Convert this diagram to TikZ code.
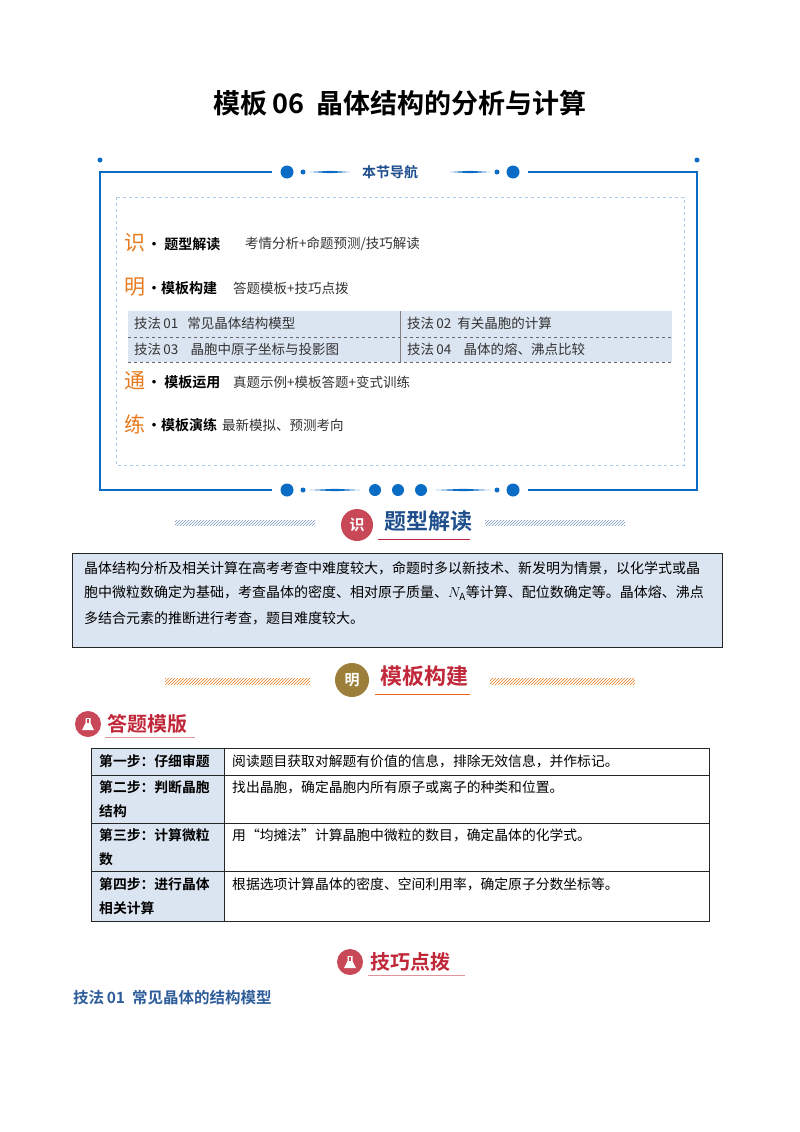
\documentclass[tikz,border=0pt]{standalone}
\usepackage{fontspec}
\setmainfont{Noto Sans CJK SC}
\newfontfamily\cjkb{Noto Sans CJK SC Bold}
\usetikzlibrary{patterns}
\definecolor{navblue}{HTML}{0A6CC4}
\definecolor{lightband}{HTML}{DBE5F1}
\definecolor{orng}{HTML}{E87A1E}
\definecolor{hdblue}{HTML}{1F4E8C}
\definecolor{hdred}{HTML}{C0283A}
\definecolor{titblue}{HTML}{2E5D9A}
\definecolor{olive}{HTML}{9C7F3A}
\tikzset{
  body/.style={anchor=west,inner sep=0pt,font=\fontsize{14}{16}\selectfont},
  bigchar/.style={anchor=west,inner sep=0pt,text=orng,font=\fontsize{21}{24}\selectfont},
  navlab/.style={anchor=west,inner sep=0pt,font=\cjkb\fontsize{14}{16}\selectfont},
  navtxt/.style={anchor=west,inner sep=0pt,text=black!80,font=\fontsize{13.5}{15}\selectfont},
  cell/.style={anchor=west,inner sep=0pt,font=\fontsize{13.8}{15}\selectfont},
  cellb/.style={anchor=west,inner sep=0pt,font=\cjkb\fontsize{13.8}{15}\selectfont},
  dot/.style={fill=navblue,draw=none},
  flask/.pic={\fill[white] (-2.5,-6) -- (2.5,-6) -- (2.5,-1) -- (6,6) -- (-6,6) -- (-2.5,-1) -- cycle;
              \fill[hdred!85] (-1.2,-5) rectangle (1.2,-1.5);},
}
\begin{document}
\begin{tikzpicture}[x=1pt,y=-1pt]
\useasboundingbox (0,0) rectangle (800,1132);
\node[font=\cjkb\fontsize{27}{30}\selectfont] (title) at (400,103) {模板\,06\ \ 晶体结构的分析与计算};
% nav frame
\draw[navblue,line width=1.6pt] (272,172) -- (100,172) -- (100,490) -- (272,490);
\draw[navblue,line width=1.6pt] (528,172) -- (697,172) -- (697,490) -- (528,490);
\fill[dot] (100,160) circle (2.5); \fill[dot] (697,160) circle (2.5);
\fill[dot] (287,172) circle (6.5); \fill[dot] (513,172) circle (6.5);
\fill[dot] (303,172) circle (2.5); \fill[dot] (497,172) circle (2.5);
\fill[navblue] (310,172) -- (330,170.8) -- (350,172) -- (330,173.2) -- cycle;
\fill[navblue] (450,172) -- (470,170.8) -- (490,172) -- (470,173.2) -- cycle;
\node[text=hdblue,font=\cjkb\fontsize{14}{16}\selectfont] (navt) at (390,172) {本节导航};
\fill[dot] (287,490) circle (6.5); \fill[dot] (513,490) circle (6.5);
\fill[dot] (303,490) circle (2.5); \fill[dot] (497,490) circle (2.5);
\fill[dot] (375,490) circle (6); \fill[dot] (398,490) circle (6); \fill[dot] (421,490) circle (6);
\fill[navblue] (310,490) -- (335,488.8) -- (360,490) -- (335,491.2) -- cycle;
\fill[navblue] (436,490) -- (463,488.8) -- (490,490) -- (463,491.2) -- cycle;
\draw[navblue!35,dashed,line width=1pt] (116,197) rectangle (684,465);
% nav rows
\node[bigchar] (c1) at (124,243) {识};
\node[navlab] (l1) at (147,244) {· 题型解读};
\node[navtxt] (t1) at (245,244) {考情分析+命题预测/技巧解读};
\node[bigchar] (c2) at (124,287) {明};
\node[navlab] (l2) at (147,288) {·模板构建};
\node[navtxt] (t2) at (233,288) {答题模板+技巧点拨};
\fill[lightband] (128,311) rectangle (672,362);
\draw[black!60,dashed] (128,337) -- (672,337);
\draw[black!60,dashed] (128,362) -- (672,362);
\draw[black!50] (400,311) -- (400,362);
\node[navtxt] (k1) at (134,323) {技法\,01\ \ \ 常见晶体结构模型};
\node[navtxt] (k2) at (407,323) {技法\,02\ \ 有关晶胞的计算};
\node[navtxt] (k3) at (134,349) {技法\,03\ \ \ \ 晶胞中原子坐标与投影图};
\node[navtxt] (k4) at (407,349) {技法\,04\ \ \ \ 晶体的熔、沸点比较};
\node[bigchar] (c3) at (124,381) {通};
\node[navlab] (l3) at (147,382) {· 模板运用};
\node[navtxt] (t3) at (233,382) {真题示例+模板答题+变式训练};
\node[bigchar] (c4) at (124,424) {练};
\node[navlab] (l4) at (147,425) {·模板演练};
\node[navtxt] (t4) at (222,425) {最新模拟、预测考向};
% section 1 header
\fill[pattern=north east lines,pattern color=hdblue!60] (175,520) rectangle (315,525);
\fill[pattern=north east lines,pattern color=hdblue!60] (485,520) rectangle (625,525);
\fill[hdred!85] (357,525) circle (16);
\node[text=white,font=\cjkb\fontsize{15}{17}\selectfont] (s1c) at (357,525) {识};
\draw[hdred,line width=1pt] (378,539) -- (470,539);
\node[text=hdblue,font=\cjkb\fontsize{22}{26}\selectfont] (s1) at (428,521) {题型解读};
\draw[black!85,fill=lightband,line width=1pt] (72,553) rectangle (722,647);
\node[body] (p1) at (84,568) {晶体结构分析及相关计算在高考考查中难度较大，命题时多以新技术、新发明为情景，以化学式或晶};
\node[body] (p2) at (84,593) {胞中微粒数确定为基础，考查晶体的密度、相对原子质量、$N_{\mathrm A}$等计算、配位数确定等。晶体熔、沸点};
\node[body] (p3) at (84,618) {多结合元素的推断进行考查，题目难度较大。};
% section 2 header
\fill[pattern=north east lines,pattern color=orng] (165,678) rectangle (310,684);
\fill[pattern=north east lines,pattern color=orng] (490,678) rectangle (635,684);
\fill[olive] (352,680) circle (17);
\node[text=white,font=\cjkb\fontsize{15}{17}\selectfont] (s2c) at (352,680) {明};
\draw[orng!80!red,line width=1pt] (375,694) -- (470,694);
\node[text=hdred,font=\cjkb\fontsize{22}{26}\selectfont] (s2) at (424,676) {模板构建};
% badge 答题模版
\fill[hdred!85] (88,724) circle (13);
\pic at (88,724) {flask};
\node[anchor=west,inner sep=0pt,text=hdred,font=\cjkb\fontsize{20}{24}\selectfont] (b1) at (107,724) {答题模版};
\draw[hdred!50] (105,737) -- (195,737);
% table
\fill[lightband] (91,748) rectangle (224,921);
\draw[black!85,line width=0.7pt] (91,748) rectangle (709,921);
\foreach \yy in {775,823,871} \draw[black!85,line width=0.7pt] (91,\yy) -- (709,\yy);
\draw[black!85,line width=0.7pt] (224,748) -- (224,921);
\node[cellb] (r1a) at (99,761) {第一步：仔细审题};
\node[cell] (r1b) at (232,761) {阅读题目获取对解题有价值的信息，排除无效信息，并作标记。};
\node[cellb] (r2a) at (99,787) {第二步：判断晶胞};
\node[cellb] (r2a2) at (99,811) {结构};
\node[cell] (r2b) at (232,787) {找出晶胞，确定晶胞内所有原子或离子的种类和位置。};
\node[cellb] (r3a) at (99,835) {第三步：计算微粒};
\node[cellb] (r3a2) at (99,859) {数};
\node[cell] (r3b) at (232,835) {用“均摊法”计算晶胞中微粒的数目，确定晶体的化学式。};
\node[cellb] (r4a) at (99,884) {第四步：进行晶体};
\node[cellb] (r4a2) at (99,908) {相关计算};
\node[cell] (r4b) at (232,884) {根据选项计算晶体的密度、空间利用率，确定原子分数坐标等。};
% badge 技巧点拨
\fill[hdred!85] (350,962) circle (13);
\pic at (350,962) {flask};
\node[anchor=west,inner sep=0pt,text=hdred,font=\cjkb\fontsize{20}{24}\selectfont] (b2) at (370,962) {技巧点拨};
\draw[hdred!50] (368,975) -- (465,975);
\node[anchor=west,inner sep=0pt,text=titblue,font=\cjkb\fontsize{15.5}{18}\selectfont] (h1) at (73,998) {技法\,01\ \ 常见晶体的结构模型};
\end{tikzpicture}
\end{document}
